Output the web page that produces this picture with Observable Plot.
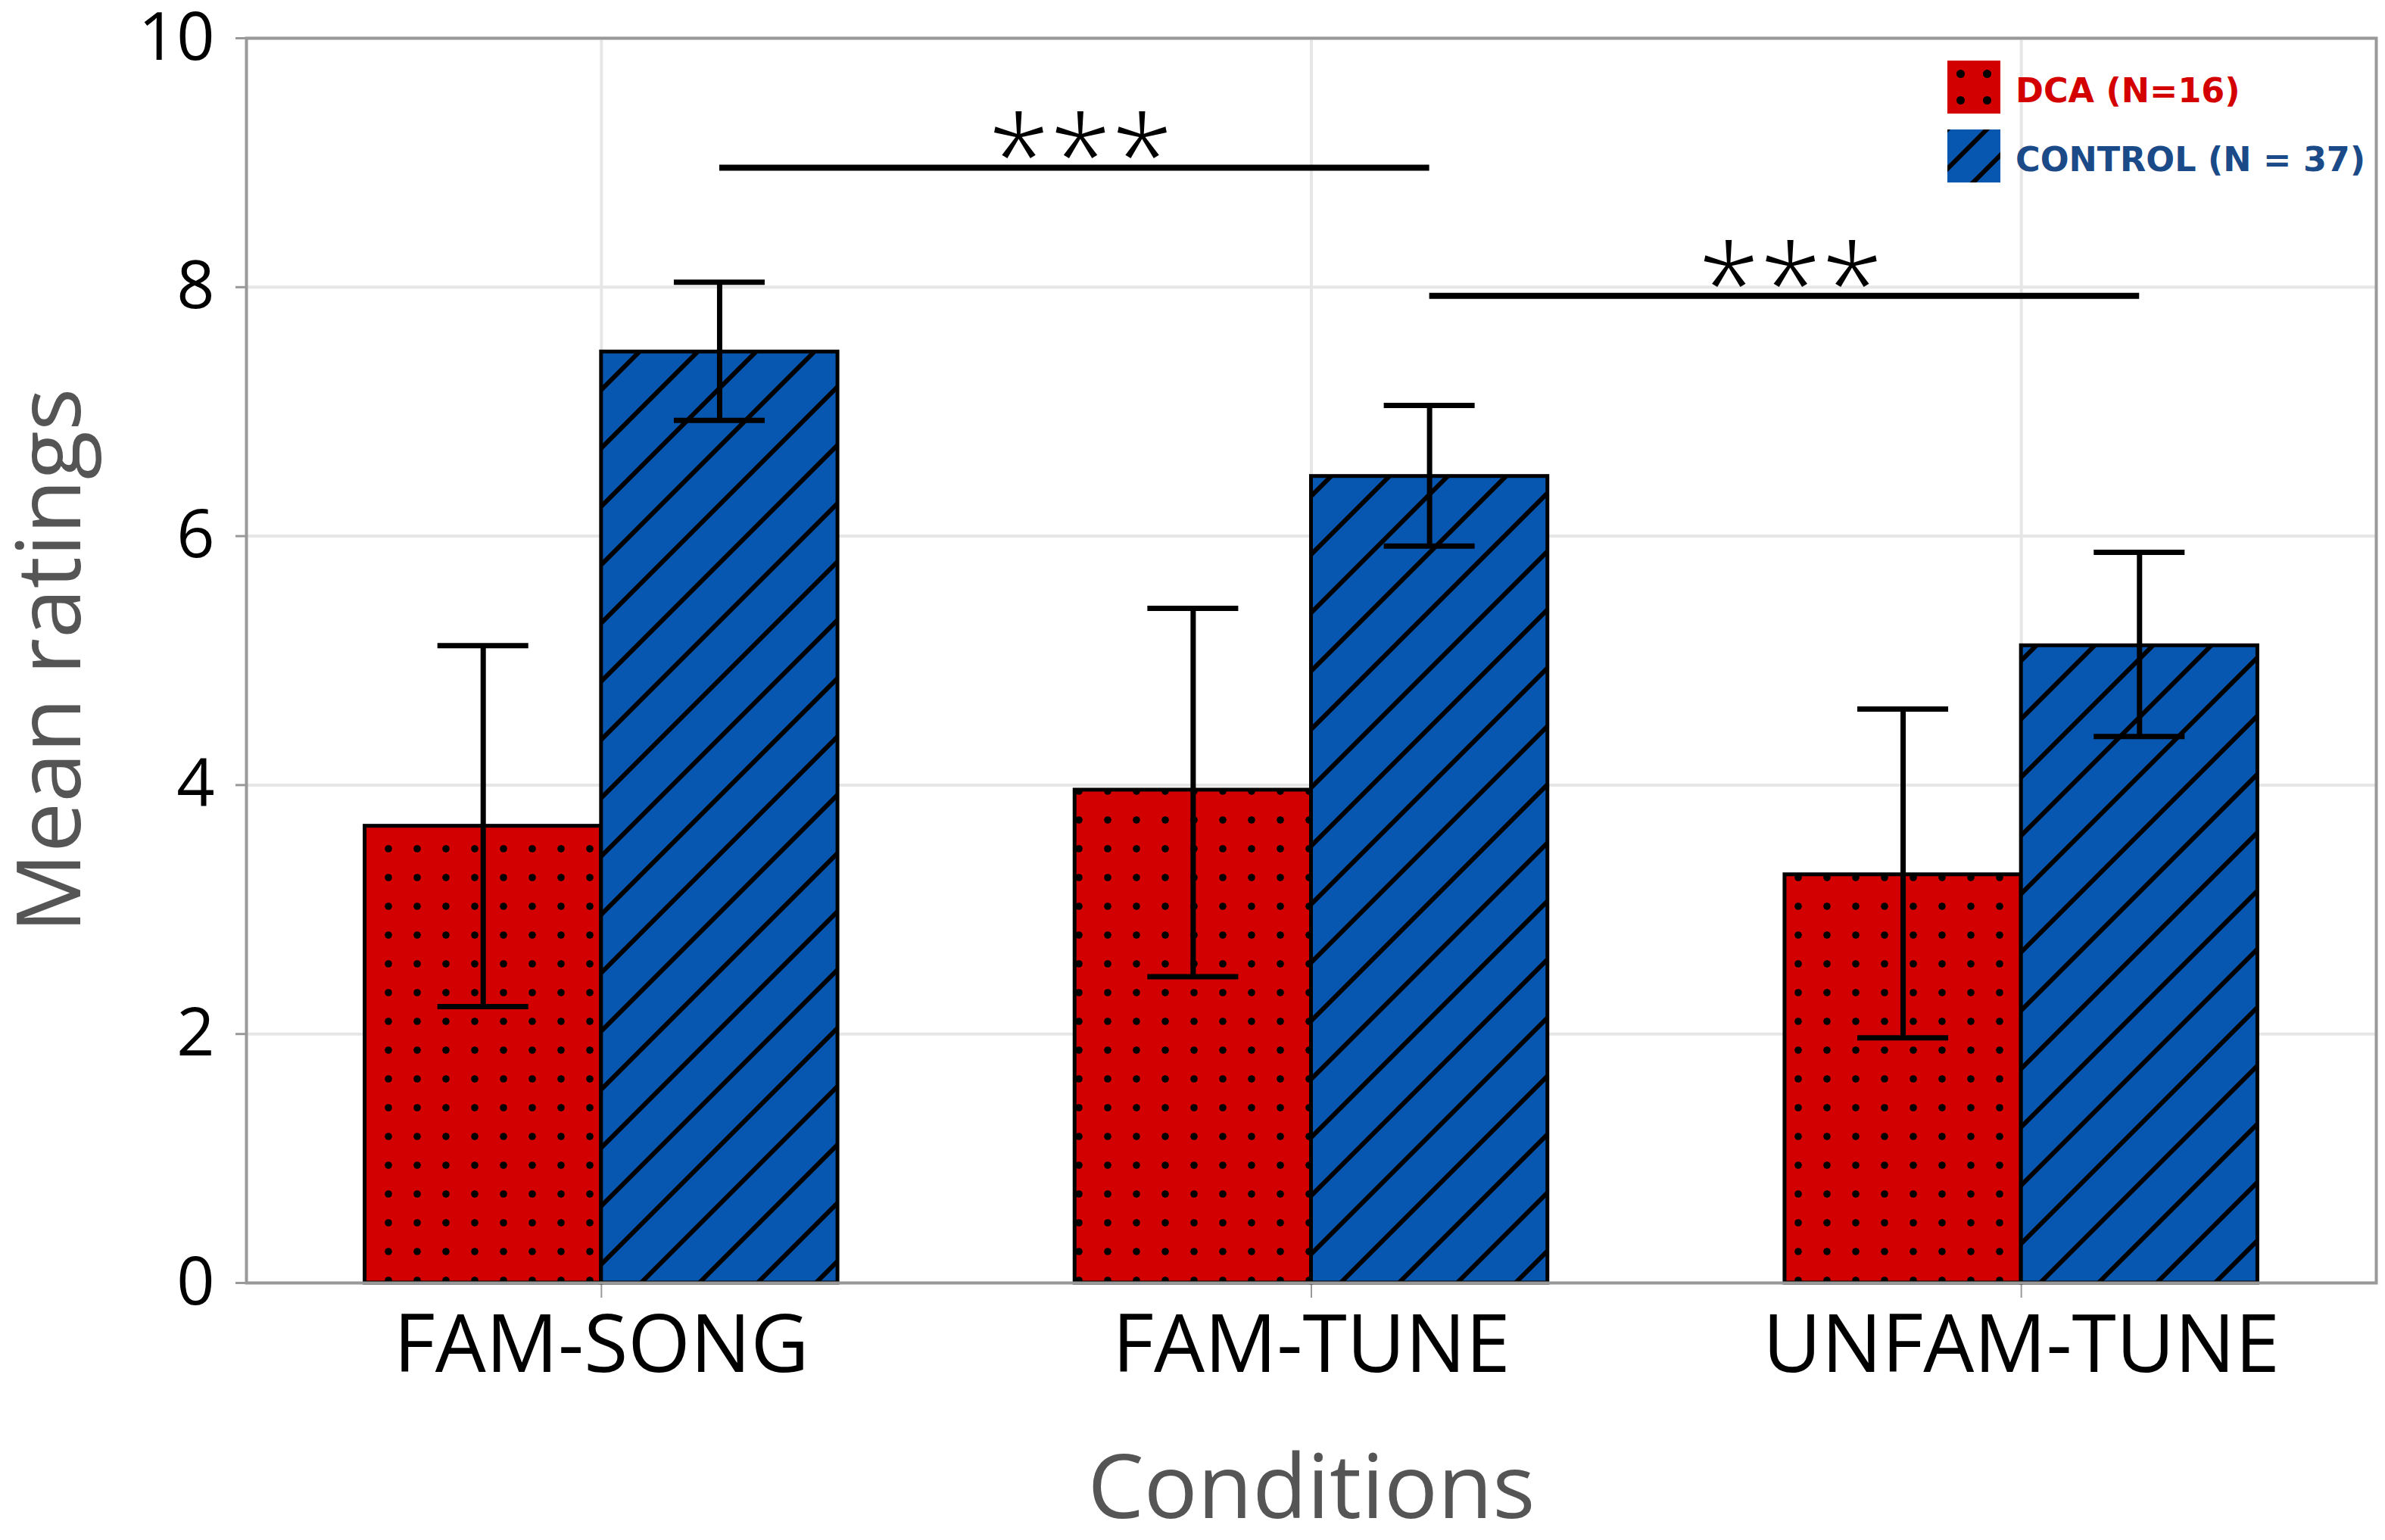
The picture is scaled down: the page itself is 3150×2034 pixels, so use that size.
<!DOCTYPE html>
<html>
<head>
<meta charset="utf-8">
<script src="https://cdn.jsdelivr.net/npm/d3@7"></script>
<script src="https://cdn.jsdelivr.net/npm/@observablehq/plot@0.6"></script>
<style>
  html, body { margin: 0; padding: 0; background: #fff; }
  #wrap { position: relative; width: 3150px; height: 2034px; overflow: hidden; }
  #legend { position: absolute; left: 2572px; top: 80px; font-family: "DejaVu Sans", Verdana, sans-serif; font-weight: bold; font-size: 44.5px; }
  .row { display: flex; align-items: center; height: 70px; margin-bottom: 21px; white-space: nowrap; }
  .row svg { width: 70px; height: 70px; margin-right: 20px; flex: none; }
  .row span { padding-top: 8px; }
</style>
</head>
<body>
<div id="wrap"></div>
<script>
// ---------- data ----------
const categories = ["FAM-SONG", "FAM-TUNE", "UNFAM-TUNE"];
const groups = ["DCA (N=16)", "CONTROL (N = 37)"];
const dcaMean  = [3.67, 3.96, 3.28];
const dcaLo    = [2.22, 2.46, 1.97];
const dcaHi    = [5.12, 5.42, 4.61];
const ctrlMean = [7.48, 6.48, 5.12];
const ctrlLo   = [6.93, 5.92, 4.39];
const ctrlHi   = [8.04, 7.05, 5.87];
const yTicks = [0, 2, 4, 6, 8, 10];
// significance brackets (between CONTROL bars of two conditions)
const sigFrom  = ["FAM-SONG", "FAM-TUNE"];
const sigTo    = ["FAM-TUNE", "UNFAM-TUNE"];
const sigLevel = [8.96, 7.93];
const sigLabel = ["***", "***"];

// ---------- layout / style ----------
const W = 3150, H = 2034;
const barW = 0.333;     // bar width in category units
const capW = 0.064;     // half-width of error-bar caps
const red = "#d20000", blue = "#0756b0";
const redText = "#d40000", blueText = "#1b4a88";

const rows = [];
categories.forEach((c, i) => {
  rows.push({cat: c, i, group: groups[0], mean: dcaMean[i], lo: dcaLo[i], hi: dcaHi[i], x1: i - barW, x2: i, xc: i - barW / 2, fill: "url(#dotsPat)"});
  rows.push({cat: c, i, group: groups[1], mean: ctrlMean[i], lo: ctrlLo[i], hi: ctrlHi[i], x1: i, x2: i + barW, xc: i + barW / 2, fill: "url(#hatchPat)"});
});
const sig = sigFrom.map((f, k) => {
  const a = categories.indexOf(f) + barW / 2, b = categories.indexOf(sigTo[k]) + barW / 2;
  return {a, b, m: (a + b) / 2, y: sigLevel[k], label: sigLabel[k]};
});

const plot = Plot.plot({
  width: W,
  height: H,
  marginTop: 50,
  marginRight: 12,
  marginBottom: 340,
  marginLeft: 325,
  style: {fontFamily: "'Open Sans', 'Noto Sans', sans-serif", background: "#fff"},
  x: {type: "linear", domain: [-0.5, 2.5]},
  y: {domain: [0, 10]},
  marks: [
    Plot.gridX({ticks: [0, 1, 2], stroke: "#e6e6e6", strokeOpacity: 1, strokeWidth: 4}),
    Plot.gridY({ticks: yTicks, stroke: "#e6e6e6", strokeOpacity: 1, strokeWidth: 4}),
    Plot.axisY({ticks: yTicks, tickSize: 14, tickPadding: 28, fontSize: 88, stroke: "#999", strokeWidth: 3, fill: "#000", label: null}),
    Plot.axisX({ticks: [0, 1, 2], tickFormat: i => categories[i], tickSize: 20, tickPadding: 22, fontSize: 106, stroke: "#999", strokeWidth: 2, fill: "#000", label: null}),
    Plot.rectY(rows, {x1: "x1", x2: "x2", y1: 0, y2: "mean", fill: "fill", stroke: "#000", strokeWidth: 5}),
    Plot.ruleX(rows, {x: "xc", y1: "lo", y2: "hi", stroke: "#000", strokeWidth: 7}),
    Plot.ruleY(rows, {x1: d => d.xc - capW, x2: d => d.xc + capW, y: "lo", stroke: "#000", strokeWidth: 7}),
    Plot.ruleY(rows, {x1: d => d.xc - capW, x2: d => d.xc + capW, y: "hi", stroke: "#000", strokeWidth: 7}),
    Plot.ruleY(sig, {x1: "a", x2: "b", y: "y", stroke: "#000", strokeWidth: 8}),
    Plot.text(sig, {x: "m", y: "y", text: "label", fontSize: 148, fontWeight: 300, lineAnchor: "bottom", dy: 38, dx: 8, fill: "#000", fontFamily: "'Open Sans', sans-serif", letterSpacing: "10px"}),
    Plot.frame({stroke: "#999", strokeWidth: 4}),
    Plot.text(["Mean ratings"], {frameAnchor: "left", dx: -257, rotate: -90, fontSize: 118, fill: "#555", textAnchor: "middle", lineAnchor: "middle"}),
    Plot.text(["Conditions"], {frameAnchor: "bottom", dy: 273, fontSize: 118, fill: "#555", textAnchor: "middle", lineAnchor: "middle"})
  ]
});

// patterns
const defs = d3.select(plot).insert("defs", ":first-child");
function addPatterns(sel, dotsId, hatchId, dotStep, dotR, hatchStep, hatchW) {
  const p1 = sel.append("pattern").attr("id", dotsId).attr("patternUnits", "userSpaceOnUse")
    .attr("width", dotStep).attr("height", dotStep);
  p1.append("rect").attr("width", dotStep).attr("height", dotStep).attr("fill", red);
  p1.append("circle").attr("cx", dotStep / 2).attr("cy", dotStep / 2).attr("r", dotR).attr("fill", "#000");
  const s = hatchStep;
  const p2 = sel.append("pattern").attr("id", hatchId).attr("patternUnits", "userSpaceOnUse")
    .attr("width", s).attr("height", s);
  p2.append("rect").attr("width", s).attr("height", s).attr("fill", blue);
  p2.append("path").attr("d", `M0,${s} L${s},0 M${-s / 4},${s / 4} L${s / 4},${-s / 4} M${s * 3 / 4},${s * 5 / 4} L${s * 5 / 4},${s * 3 / 4}`)
    .attr("stroke", "#000").attr("stroke-width", hatchW);
}
addPatterns(defs, "dotsPat", "hatchPat", 38, 4.8, 77, 6);

const wrap = document.getElementById("wrap");
wrap.appendChild(plot);

// legend (inside plot area, top right)
const legend = document.createElement("div");
legend.id = "legend";
wrap.appendChild(legend);
addPatterns(defs, "dotsLeg", "hatchLeg", 35, 5.5, 52, 6);
[[groups[0], "url(#dotsLeg)", redText], [groups[1], "url(#hatchLeg)", blueText]].forEach(([label, fill, color]) => {
  const row = d3.select(legend).append("div").attr("class", "row");
  const sw = row.append("svg").attr("viewBox", "0 0 70 70");
  sw.append("rect").attr("width", 70).attr("height", 70).attr("fill", fill);
  row.append("span").style("color", color).text(label);
});
</script>
</body>
</html>
